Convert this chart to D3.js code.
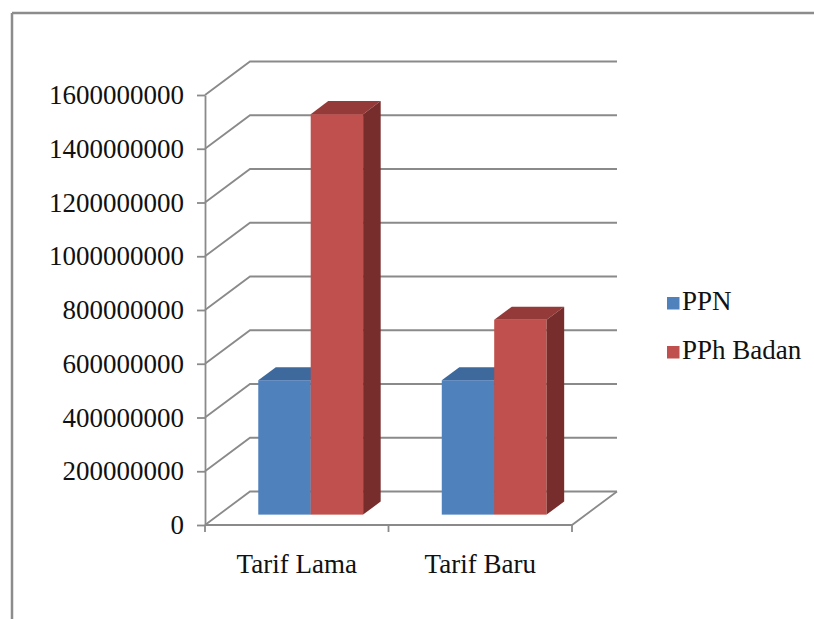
<!DOCTYPE html>
<html>
<head>
<meta charset="utf-8">
<script src="https://cdn.jsdelivr.net/npm/d3@7"></script>
<style>
  body { margin: 0; background: #fff; }
  svg { display: block; }
  text { font-family: "Liberation Serif", "Times New Roman", serif; fill: #111; }
</style>
</head>
<body>
<svg id="chart" width="814" height="619"></svg>
<script>
const categories = ["Tarif Lama", "Tarif Baru"];
const seriesNames = ["PPN", "PPh Badan"];
const ppn = [500000000, 500000000];
const pphBadan = [1490000000, 725000000];
const yTicks = [0, 200000000, 400000000, 600000000, 800000000, 1000000000, 1200000000, 1400000000, 1600000000];

const seriesValues = [ppn, pphBadan];
const colors = {
  PPN: { front: "#4f81bd", top: "#3d699c", side: "#385d8a" },
  "PPh Badan": { front: "#c0504d", top: "#943b39", side: "#772d2b" }
};

const svg = d3.select('#chart');
const gridColor = '#8a8a8a';
const fontSize = '27px';

// depth vector of the 3d box (front plane -> back wall)
const depth = { dx: 45, dy: -33.5 };
const barFront = 0.31, barBack = 0.70;

const x0 = d3.scaleBand()
  .domain(categories)
  .range([205, 572])
  .paddingInner(0)
  .paddingOuter(0);

const x1 = d3.scaleBand()
  .domain(seriesNames)
  .range([0, x0.bandwidth()])
  .paddingInner(0)
  .paddingOuter(0.75);

const y = d3.scaleLinear()
  .domain([0, 1600000000])
  .range([525, 95]);

// outer frame (top + left only are visible)
svg.append('line')
  .attr('x1', 12).attr('y1', 13).attr('x2', 814).attr('y2', 13)
  .attr('stroke', '#8c8c8c').attr('stroke-width', 2.5);
svg.append('line')
  .attr('x1', 12).attr('y1', 13).attr('x2', 12).attr('y2', 619)
  .attr('stroke', '#8c8c8c').attr('stroke-width', 2.5);

const xLeft = x0.range()[0], xRight = x0.range()[1];

// gridlines: diagonal on the side wall + horizontal on back wall
const grid = svg.append('g')
  .attr('fill', 'none')
  .attr('stroke', gridColor)
  .attr('stroke-width', 1.8);

grid.selectAll('path')
  .data(yTicks)
  .join('path')
  .attr('d', d => {
    const p = d3.path();
    p.moveTo(xLeft, y(d));
    p.lineTo(xLeft + depth.dx, y(d) + depth.dy);
    p.lineTo(xRight + depth.dx, y(d) + depth.dy);
    return p.toString();
  });

// floor right edge and front edge
grid.append('path')
  .attr('d', `M${xLeft},${y(0)}L${xRight},${y(0)}L${xRight + depth.dx},${y(0) + depth.dy}`);

// bottom ticks at category boundaries
grid.selectAll('line.xtick')
  .data([xLeft, ...categories.slice(1).map(c => x0(c)), xRight])
  .join('line')
  .attr('class', 'xtick')
  .attr('x1', d => d).attr('x2', d => d)
  .attr('y1', y(0)).attr('y2', y(0) + 7);

// y axis
const yAxis = svg.append('g')
  .attr('transform', `translate(${xLeft},0)`)
  .call(d3.axisLeft(y)
    .tickValues(yTicks)
    .tickFormat(d3.format('d'))
    .tickSize(8)
    .tickSizeOuter(0)
    .tickPadding(13));

yAxis.select('.domain').attr('stroke', gridColor).attr('stroke-width', 1.8);
yAxis.selectAll('.tick line').attr('stroke', gridColor).attr('stroke-width', 1.8);
yAxis.selectAll('.tick text')
  .style('font-family', '"Liberation Serif", "Times New Roman", serif')
  .style('font-size', fontSize)
  .attr('fill', '#111');

// category labels
svg.append('g')
  .selectAll('text')
  .data(categories)
  .join('text')
  .attr('x', d => x0(d) + x0.bandwidth() / 2)
  .attr('y', 573)
  .attr('text-anchor', 'middle')
  .style('font-size', fontSize)
  .text(d => d);

// 3d columns
const bars = [];
categories.forEach((c, ci) => {
  seriesNames.forEach((s, si) => {
    bars.push({ category: c, series: s, value: seriesValues[si][ci] });
  });
});

const fdx = depth.dx * barFront, fdy = depth.dy * barFront;
const bdx = depth.dx * (barBack - barFront), bdy = depth.dy * (barBack - barFront);

const barG = svg.append('g')
  .selectAll('g')
  .data(bars)
  .join('g')
  .attr('transform', `translate(${fdx},${fdy})`);

barG.each(function(d) {
  const g = d3.select(this);
  const xa = x0(d.category) + x1(d.series);
  const xb = xa + x1.bandwidth();
  const yt = y(d.value), yb = y(0);
  const c = colors[d.series];
  g.append('rect')
    .attr('x', xa).attr('y', yt)
    .attr('width', xb - xa).attr('height', yb - yt)
    .attr('fill', c.front);
  g.append('polygon')
    .attr('points', [[xa, yt], [xb, yt], [xb + bdx, yt + bdy], [xa + bdx, yt + bdy]].join(' '))
    .attr('fill', c.top);
  g.append('polygon')
    .attr('points', [[xb, yt], [xb + bdx, yt + bdy], [xb + bdx, yb + bdy], [xb, yb]].join(' '))
    .attr('fill', c.side);
});

// legend
const legend = svg.append('g')
  .selectAll('g')
  .data(seriesNames)
  .join('g')
  .attr('transform', (d, i) => `translate(667,${297 + i * 49})`);

legend.append('rect')
  .attr('width', 12.5).attr('height', 12.5)
  .attr('fill', d => colors[d].front);

legend.append('text')
  .attr('x', 15)
  .attr('y', 13)
  .style('font-size', fontSize)
  .text(d => d);
</script>
</body>
</html>
